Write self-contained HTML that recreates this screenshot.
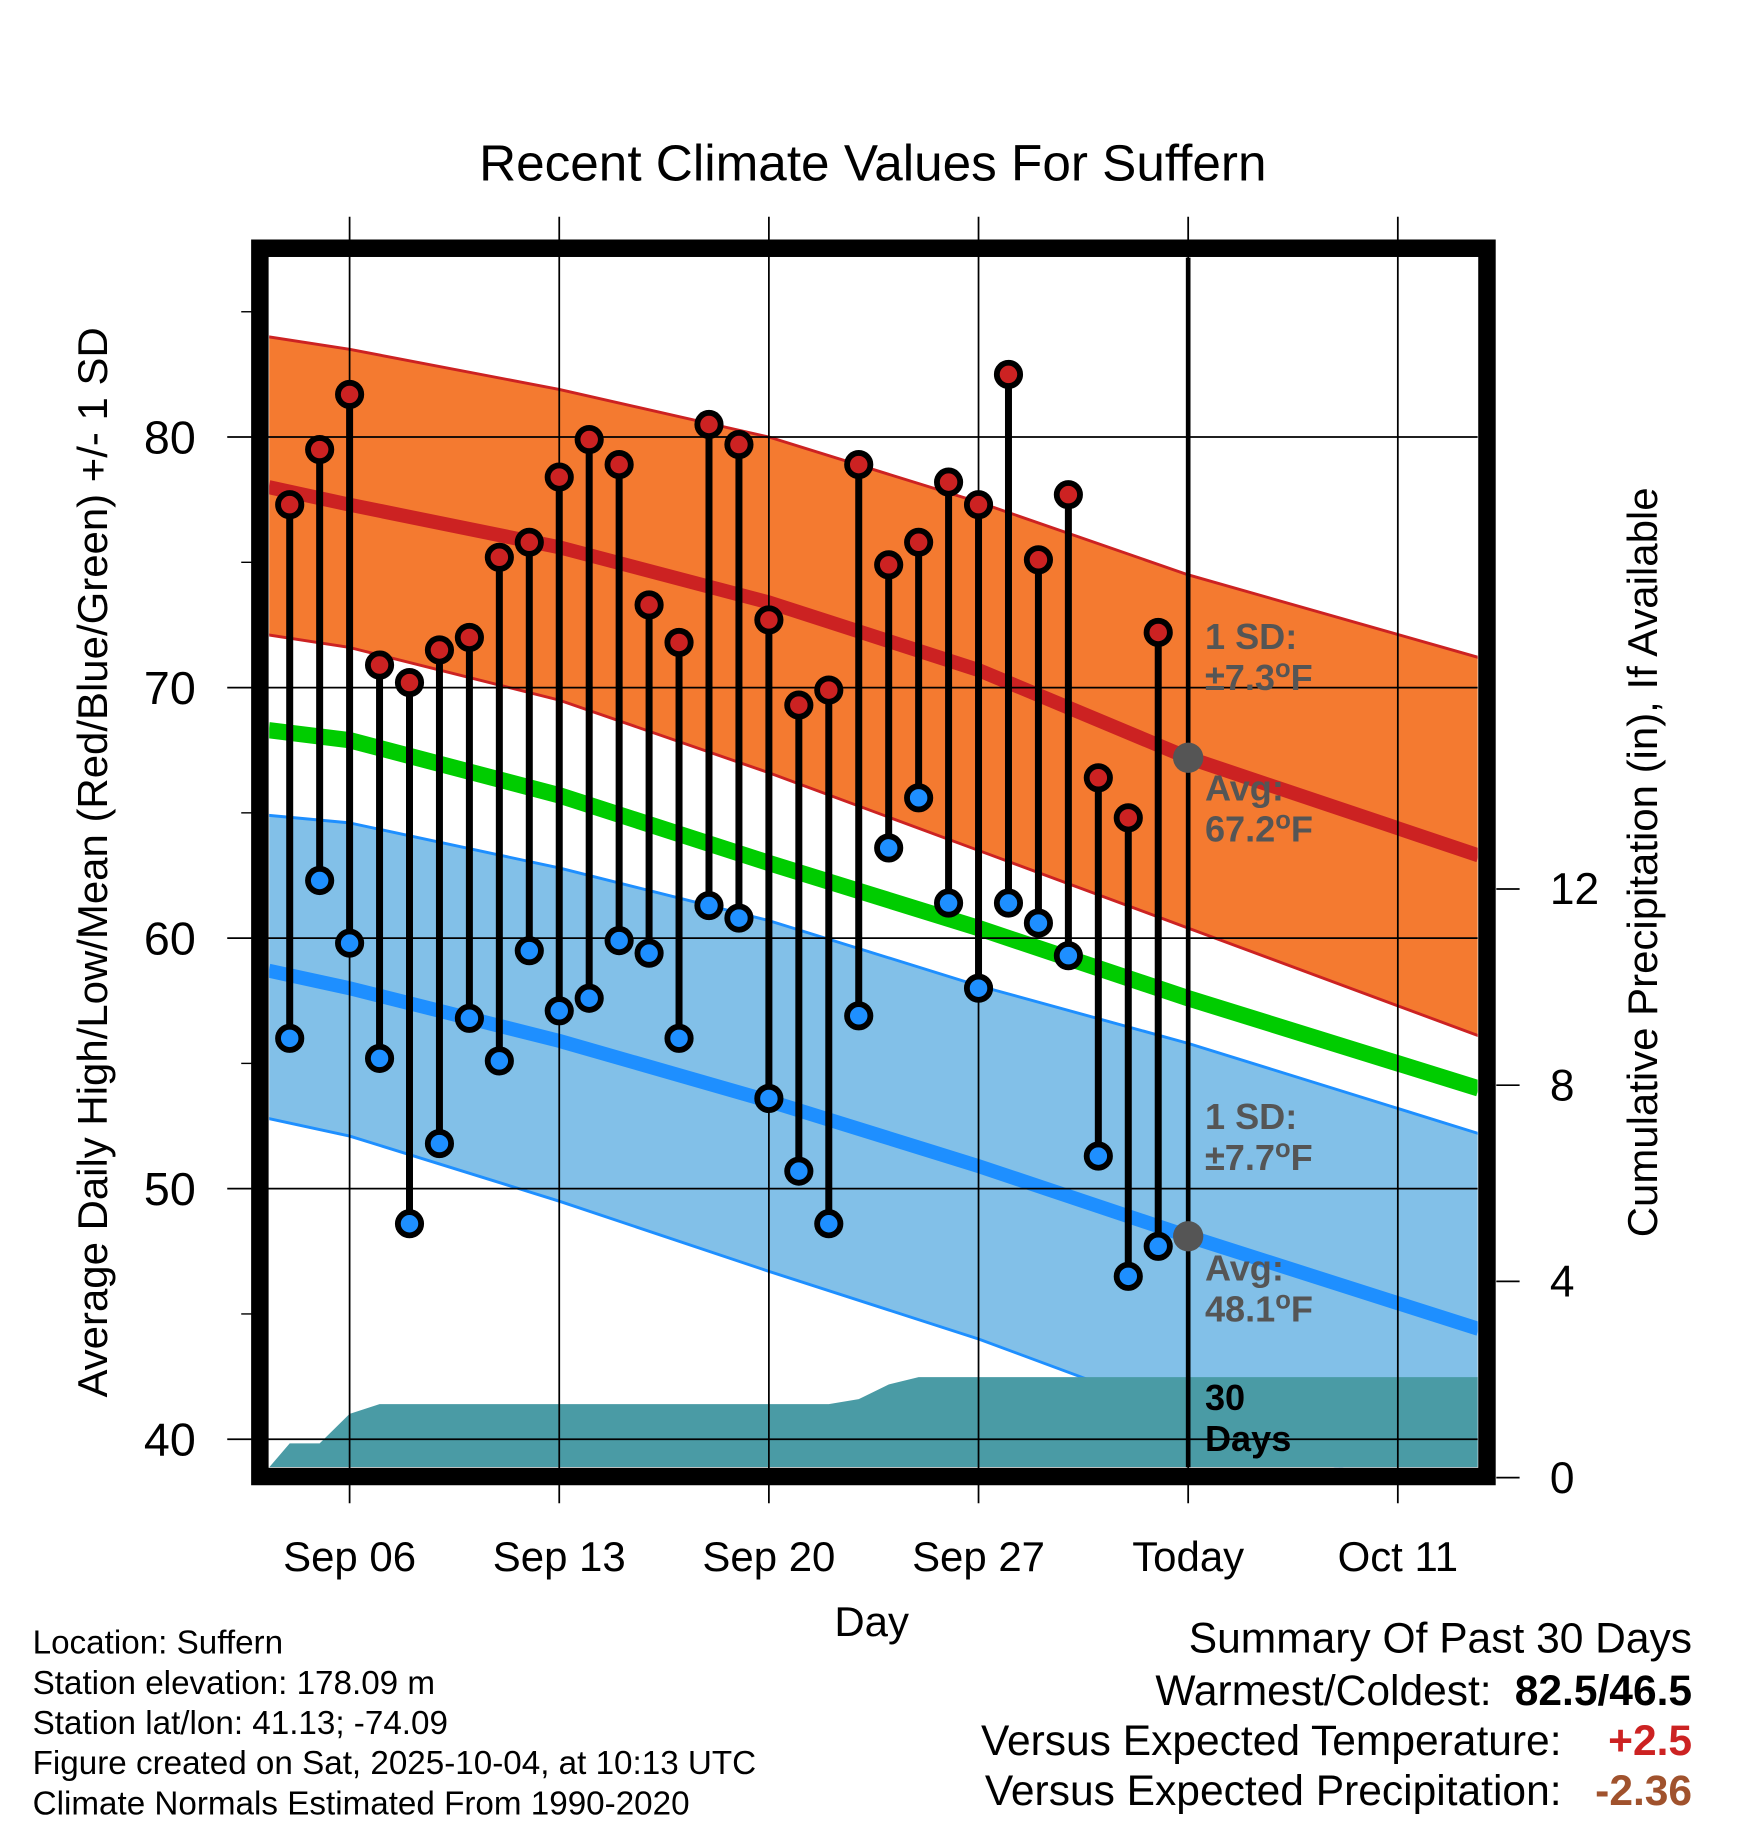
<!DOCTYPE html>
<html><head><meta charset="utf-8"><style>
html,body{margin:0;padding:0;background:#fff;}
svg{display:block;font-family:"Liberation Sans",Arial,sans-serif;}
</style></head><body>
<svg id="chart" width="1748" height="1828" viewBox="0 0 1500 1568.6" xmlns="http://www.w3.org/2000/svg"></svg>
<script>
const days = [4,5,6,7,8,9,10,11,12,13,14,15,16,17,18,19,20,21,22,23,24,25,26,27,28,29,30,31,32,33];
const highs = [77.3,79.5,81.7,70.9,70.2,71.5,72.0,75.2,75.8,78.4,79.9,78.9,73.3,71.8,80.5,79.7,72.7,69.3,69.9,78.9,74.9,75.8,78.2,77.3,82.5,75.1,77.7,66.4,64.8,72.2];
const lows = [56.0,62.3,59.8,55.2,48.6,51.8,56.8,55.1,59.5,57.1,57.6,59.9,59.4,56.0,61.3,60.8,53.6,50.7,48.6,56.9,63.6,65.6,61.4,58.0,61.4,60.6,59.3,51.3,46.5,47.7];
const normDays = [3.3,6,13,20,27,34,43.7];
const normHigh = [78.0,77.3,75.6,73.4,70.7,67.2,63.3];
const normHighUp = [84.0,83.5,81.9,80.0,77.4,74.5,71.2];
const normHighDn = [72.1,71.6,69.5,66.6,63.5,60.4,56.1];
const normMean = [68.3,67.9,65.7,63.0,60.4,57.6,54.0];
const normLow = [58.7,58.0,55.9,53.5,50.9,48.1,44.4];
const normLowUp = [64.9,64.6,62.8,60.7,58.1,55.8,52.2];
const normLowDn = [52.8,52.1,49.5,46.7,44.0,40.9,37.0];
const precipDays = [3.3,4,5,6,7,22,23,24,25,43.7];
const precipCum = [0.2,0.7,0.7,1.3,1.5,1.5,1.6,1.9,2.05,2.05];
const yTicks = [40,50,60,70,80];
const pTicks = [0,4,8,12];
const xTickDays = [6,13,20,27,34,41];
const xTickLabels = ["Sep 06","Sep 13","Sep 20","Sep 27","Today","Oct 11"];

const NS="http://www.w3.org/2000/svg";
const svg=document.getElementById('chart');
const X0=231,X1=1268,Y0=221,Y1=1259;
function x(d){return 300+(d-6)*25.7;}
function y(v){return 375+(80-v)*21.5;}
function yp(p){return 1268-p*42.1;}
function mk(tag,attrs,parent){const e=document.createElementNS(NS,tag);for(const k in attrs)e.setAttribute(k,attrs[k]);(parent||svg).appendChild(e);return e;}
function txt(s,attrs,parent){const e=mk('text',attrs,parent);e.textContent=s;return e;}

const defs=mk('defs',{});
const cp=mk('clipPath',{id:'clip'},defs);
mk('rect',{x:X0,y:Y0,width:X1-X0,height:Y1-Y0},cp);
const plot=mk('g',{'clip-path':'url(#clip)'});



function linePts(arr){return normDays.map((d,i)=>x(d)+','+y(arr[i])).join(' ');}
function band(up,dn,fill,name){
  const pts=normDays.map((d,i)=>x(d)+','+y(up[i])).concat(normDays.slice().reverse().map((d,j)=>{const i=normDays.length-1-j;return x(d)+','+y(dn[i]);}));
  const p=mk('polygon',{points:pts.join(' '),fill:fill},plot);
  
  
}
band(normHighUp,normHighDn,'#f47a30','high-sd-band');
band(normLowUp,normLowDn,'#82c0e8','low-sd-band');
[[normHighUp,'#cc2222',2.5,'high-band-upper'],[normHighDn,'#cc2222',2.5,'high-band-lower'],[normLowUp,'#1e8fff',2.5,'low-band-upper'],[normLowDn,'#1e8fff',2.5,'low-band-lower'],
 [normHigh,'#cc2222',12,'avg-high-line'],[normMean,'#00cc00',14,'avg-mean-line'],[normLow,'#1e8fff',12,'avg-low-line']].forEach(a=>{
  const l=mk('polyline',{points:linePts(a[0]),fill:'none',stroke:a[1],'stroke-width':a[2],'stroke-linejoin':'round'},plot);
  
  
});
const pp=precipDays.map((d,i)=>x(d)+','+yp(precipCum[i]));
pp.push(x(43.7)+','+Y1,x(3.3)+','+Y1);
const pa=mk('polygon',{points:pp.join(' '),fill:'#4a9ba5'},plot);


yTicks.forEach(v=>{const l=mk('line',{x1:195,x2:X1,y1:y(v),y2:y(v),stroke:'#000','stroke-width':1.5});
  
  });
xTickDays.forEach(d=>{const l=mk('line',{x1:x(d),x2:x(d),y1:186,y2:1290,stroke:'#000','stroke-width':1.5});
  
  });
[45,55,65,75,85].forEach(v=>{const l=mk('line',{x1:207,x2:216,y1:y(v),y2:y(v),stroke:'#000','stroke-width':1.2});
  
  });
const tl=mk('line',{x1:x(34),x2:x(34),y1:Y0,y2:Y1,stroke:'#000','stroke-width':4});


days.forEach((d,i)=>{
  const s=mk('line',{x1:x(d),x2:x(d),y1:y(highs[i]),y2:y(lows[i]),stroke:'#000','stroke-width':6});
  
  
});
days.forEach((d,i)=>{
  const h=mk('circle',{cx:x(d),cy:y(highs[i]),r:10,fill:'#cc2222',stroke:'#000','stroke-width':5});
  
  
  const l=mk('circle',{cx:x(d),cy:y(lows[i]),r:10,fill:'#1e8fff',stroke:'#000','stroke-width':5});
  
  
});
[normHigh[5],normLow[5]].forEach(v=>{const c=mk('circle',{cx:x(34),cy:y(v),r:13,fill:'#555'});
  
  });
function ann(lines,yy,color,name){const t=mk('text',{x:1034,y:yy,'font-size':31,'font-weight':'bold',fill:color});
  
  
  lines.forEach((s,i)=>{
    const parts=s.split('°');
    const ts=mk('tspan',{x:1034,dy:i?35:0},t);ts.textContent=parts[0];
    if(parts.length>1){const o=mk('tspan',{dy:-11,'font-size':22},t);o.textContent='o';
      const f=mk('tspan',{dy:11},t);f.textContent=parts[1];}
  });}
ann(['1 SD:','±7.3°F'],557,'#555','high-sd-label');
ann(['Avg:','67.2°F'],687,'#555','avg-high-label');
ann(['1 SD:','±7.7°F'],969,'#555','low-sd-label');
ann(['Avg:','48.1°F'],1099,'#555','avg-low-label');
ann(['30','Days'],1210,'#000','period-label');
const fr=mk('rect',{x:223,y:213,width:1053,height:1054,fill:'none',stroke:'#000','stroke-width':15});


yTicks.forEach(v=>{const t=txt(String(v),{x:168,y:y(v)+14,'font-size':40,'text-anchor':'end'});
  
  });
pTicks.forEach(p=>{const l=mk('line',{x1:1284,x2:1304,y1:yp(p),y2:yp(p),stroke:'#000','stroke-width':1.5});
  
  
  const t=txt(String(p),{x:1330,y:yp(p)+13,'font-size':38});
  
  });
xTickDays.forEach((d,i)=>{const t=txt(xTickLabels[i],{x:x(d),y:1348,'font-size':36,'text-anchor':'middle'});
  
  });
let t;
t=txt('Recent Climate Values For Suffern',{x:749,y:155,'font-size':44,'text-anchor':'middle'});


t=txt('Day',{x:748,y:1404,'font-size':36,'text-anchor':'middle'});


t=txt('Average Daily High/Low/Mean (Red/Blue/Green) +/- 1 SD',{x:0,y:0,'font-size':36,'text-anchor':'middle',transform:'translate(92,740) rotate(-90)'});


t=txt('Cumulative Precipitation (in), If Available',{x:0,y:0,'font-size':36,'text-anchor':'middle',transform:'translate(1422,740) rotate(-90)'});


['Location: Suffern','Station elevation: 178.09 m','Station lat/lon: 41.13; -74.09','Figure created on Sat, 2025-10-04, at 10:13 UTC','Climate Normals Estimated From 1990-2020'].forEach((s,i)=>{
  const e=txt(s,{x:28,y:1419+i*34.5,'font-size':28.5});
  
  });
t=txt('Summary Of Past 30 Days',{x:1452,y:1418,'font-size':36.5,'text-anchor':'end'});


[['Warmest/Coldest:',1280,'82.5/46.5','#000',1463],['Versus Expected Temperature:',1340,'+2.5','#cc2222',1506],['Versus Expected Precipitation:',1340,'-2.36','#a0522d',1549]].forEach(r=>{
  const a=txt(r[0],{x:r[1],y:r[4],'font-size':36.5,'text-anchor':'end'});
  
  
  const b=txt(r[2],{x:1452,y:r[4],'font-size':36.5,'font-weight':'bold','text-anchor':'end',fill:r[3]});
  
  
});
</script>
</body></html>
